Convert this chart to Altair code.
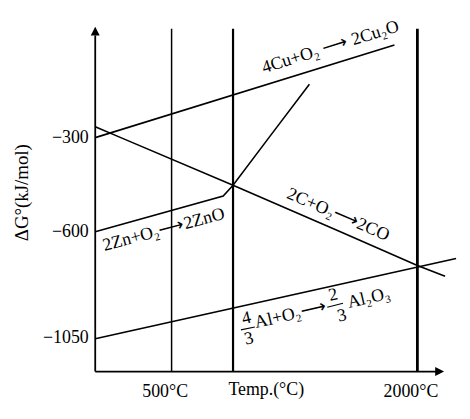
import altair as alt
import pandas as pd

# ---- data (temperature in °C, ΔG° in kJ/mol) ----
cu_T = [34, 1860]
cu_G = [-300, -5]
c_T = [34, 190, 875, 1530, 2000, 2169]
c_G = [-265, -300, -452, -600, -743, -789]
zn_T = [34, 815, 875, 1094, 1341]
zn_G = [-600, -486, -452, -300, -130]
al_T = [34, 2236]
al_G = [-1054, -713]

vline_T = [500, 875, 2000]
vline_w = [1.5, 2.2, 2.8]

y_ticks = [-300, -600, -1050]
x_ticks = [500, 2000]

label_text = ["4Cu+O₂ ⟶ 2Cu₂O", "2C+O₂⟶2CO", "2Zn+O₂⟶2ZnO",
              "4", "3", "Al+O₂⟶", "2", "3", "Al₂O₃"]
label_T = [1470, 1516, 452, 957, 972, 1226, 1486, 1540, 1704]
label_G = [-12, -546, -594, -968, -1054, -953, -869, -957, -882]
label_angle = [342.7, 23.2, 345, 347, 347, 347, 347, 347, 347]

frac_T = [923, 1450]
frac_T2 = [1008, 1546]
frac_G = [-1016, -920]
frac_G2 = [-1004, -903]

# axis geometry (data units)
T0, T_axis_end, T_arrow = 34, 2115, 2133
G_bottom, G_top_line, G_arrow, G_vtop = -1193, 26, 38, 47

FONT = "Liberation Serif"
W, H = 364, 348

rows = []
for name, Ts, Gs in [("cu", cu_T, cu_G), ("c", c_T, c_G), ("zn", zn_T, zn_G), ("al", al_T, al_G)]:
    for i, (t, g) in enumerate(zip(Ts, Gs)):
        rows.append({"series": name, "i": i, "T": t, "G": g})
lines_df = pd.DataFrame(rows)

xs = alt.Scale(domain=[34, 2236], nice=False, zero=False)
ys = alt.Scale(domain=[-1193, -1050, -600, -300, 54], range=[348, 314, 207, 112, 0],
               nice=False, zero=False)

xaxis = alt.Axis(values=x_ticks, labelExpr="datum.value + '°C'", domain=False, ticks=False,
                 grid=False, labelFont=FONT, labelFontSize=18, labelColor="black",
                 labelPadding=11, labelOffset=-7,
                 title="Temp.(°C)", titleFont=FONT, titleFontSize=18, titleFontWeight="normal",
                 titleColor="black", titleX=172, titleY=18, titleAlign="center",
                 titleBaseline="middle")
yaxis = alt.Axis(values=y_ticks, format="d", domain=False, ticks=False, grid=False,
                 labelFont=FONT, labelFontSize=18, labelColor="black", labelPadding=7,
                 title="ΔG°(kJ/mol)", titleFont=FONT, titleFontSize=19,
                 titleFontWeight="normal", titleColor="black", titleX=-74, titleY=167,
                 titleAngle=270, titleAlign="center", titleBaseline="middle")


def X(f="T"):
    return alt.X(f"{f}:Q", scale=xs, axis=xaxis)


def Y(f="G"):
    return alt.Y(f"{f}:Q", scale=ys, axis=yaxis)


lines = alt.Chart(lines_df).mark_line(color="black", strokeWidth=1.6).encode(
    x=X(), y=Y(), detail="series:N", order="i:Q",
)

vdf = pd.DataFrame({"T": vline_T, "w": vline_w, "G": [G_bottom] * 3, "G2": [G_vtop] * 3})
vlines = alt.Chart(vdf).mark_rule(color="black").encode(
    x=X(), y=Y(), y2="G2:Q",
    strokeWidth=alt.StrokeWidth("w:Q", scale=None),
)

ax_df = pd.DataFrame({"T": [T0, T0], "T2": [T0, T_axis_end],
                      "G": [G_bottom, G_bottom], "G2": [G_top_line, G_bottom]})
axes = alt.Chart(ax_df).mark_rule(color="black", strokeWidth=1.8).encode(
    x=X(), x2="T2:Q", y=Y(), y2="G2:Q",
)

up = alt.Chart(pd.DataFrame({"T": [T0], "G": [G_arrow]})).mark_point(
    shape="M0,-1L-0.9,0.8L0.9,0.8Z", filled=True, size=100, color="black", opacity=1, strokeWidth=0
).encode(x=X(), y=Y())

right = alt.Chart(pd.DataFrame({"T": [T_arrow], "G": [G_bottom]})).mark_point(
    shape="M1,0L-0.8,-0.9L-0.8,0.9Z", filled=True, size=100, color="black", opacity=1, strokeWidth=0
).encode(x=X(), y=Y())

ldf = pd.DataFrame({"text": label_text, "T": label_T, "G": label_G, "a": label_angle})
labels = alt.Chart(ldf).mark_text(font=FONT, fontSize=18, color="black",
                                  align="center", baseline="middle").encode(
    x=X(), y=Y(), text="text:N",
    angle=alt.Angle("a:Q", scale=None),
)

fdf = pd.DataFrame({"T": frac_T, "T2": frac_T2, "G": frac_G, "G2": frac_G2})
fracs = alt.Chart(fdf).mark_rule(color="black", strokeWidth=1.2).encode(
    x=X(), x2="T2:Q", y=Y(), y2="G2:Q",
)

chart = alt.layer(lines, vlines, axes, up, right, labels, fracs).properties(
    width=W, height=H,
    autosize=alt.AutoSizeParams(type="none"),
    padding={"left": 88, "top": 17, "right": 6, "bottom": 36},
).configure_view(stroke=None)

chart.save("out.html", embed_options={"renderer": "svg", "actions": False})
